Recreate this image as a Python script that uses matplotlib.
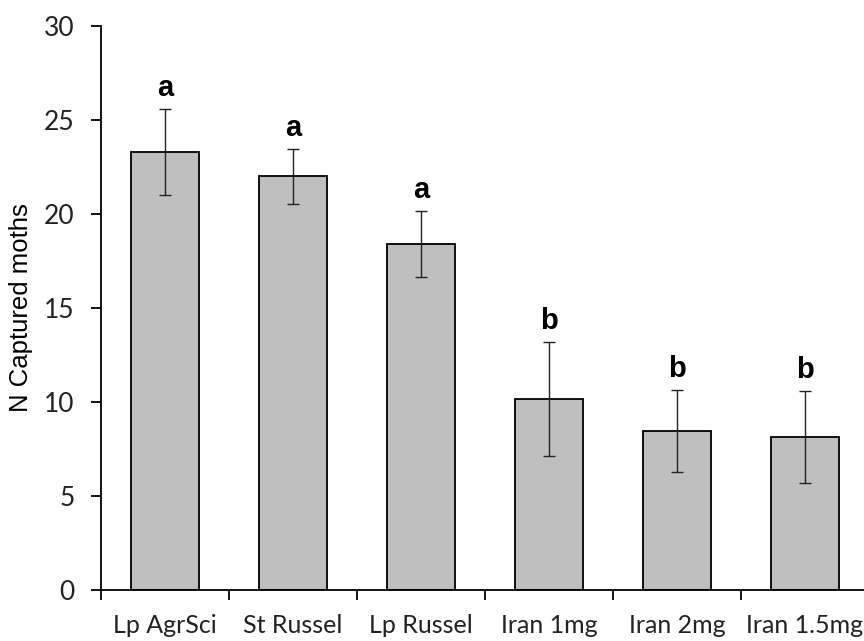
import matplotlib
matplotlib.use('Agg')
import matplotlib.pyplot as plt
import numpy as np

categories = ['Lp AgrSci', 'St Russel', 'Lp Russel', 'Iran 1mg', 'Iran 2mg', 'Iran 1.5mg']
means = [23.3, 22.0, 18.4, 10.15, 8.45, 8.15]
errors = [2.3, 1.45, 1.75, 3.03, 2.18, 2.45]
letters = ['a', 'a', 'a', 'b', 'b', 'b']

fig = plt.figure(figsize=(8.64, 6.41), dpi=100)
ax = fig.add_axes([101/864, 1 - 590/641, 768/864, 564/641])

x = np.arange(len(categories))
ax.bar(x, means, width=0.53, color='#bfbfbf', edgecolor='black', linewidth=1.3, zorder=2)
ax.errorbar(x, means, yerr=errors, fmt='none', ecolor='#222222', elinewidth=1.0,
            capsize=4, capthick=1.0, zorder=3)

# significance letters above error bars
for xi, m, e, lab in zip(x, means, errors, letters):
    ax.annotate(lab, (xi, m + e), xytext=(0, 5), textcoords='offset points',
                ha='center', va='bottom', fontsize=21, fontweight='bold',
                family='Liberation Sans')

ax.set_xlim(-0.5, len(categories) - 0.5)
ax.set_ylim(0, 30)
ax.set_yticks(np.arange(0, 31, 5))
ax.set_xticks(x)
ax.set_xticklabels(categories)
ax.set_xticks(np.arange(-0.5, len(categories), 1.0), minor=True)
ax.tick_params(axis='x', which='major', length=0, pad=17, labelsize=18, labelcolor='#222222')
ax.tick_params(axis='x', which='minor', length=7, width=1.3, direction='out')
ax.tick_params(axis='y', length=7, width=1.3, direction='out', pad=12, labelsize=19,
               labelcolor='#222222')
for lab in ax.get_xticklabels() + ax.get_yticklabels():
    lab.set_family('Lato')

ax.spines['top'].set_visible(False)
ax.spines['right'].set_visible(False)
ax.spines['left'].set_linewidth(1.3)
ax.spines['bottom'].set_linewidth(1.3)

ax.set_ylabel('N Captured moths', fontsize=18.5, family='Liberation Sans', labelpad=8)

fig.savefig('out.png', dpi=100)
